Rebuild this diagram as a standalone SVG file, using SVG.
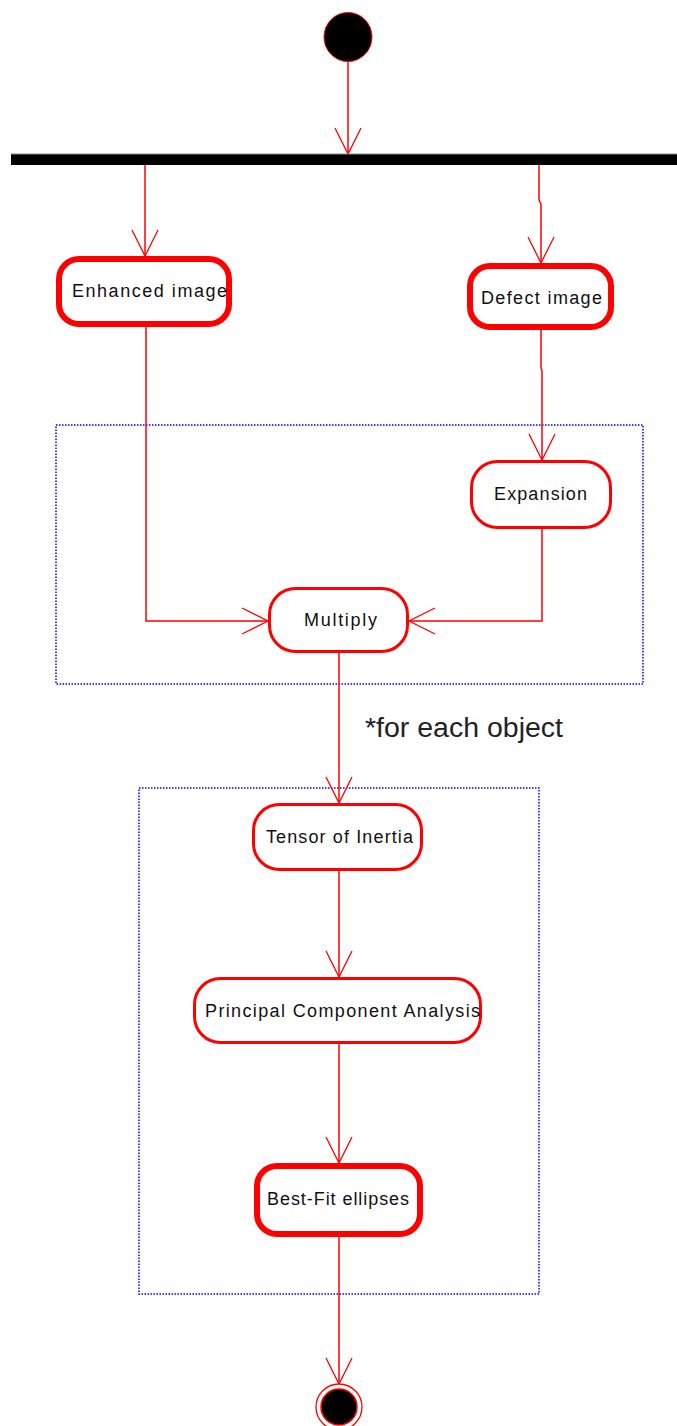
<svg xmlns="http://www.w3.org/2000/svg" width="677" height="1426" viewBox="0 0 677 1426">
  <style>
    .act { fill: #ffffff; stroke: #ff0000; }
    .thick { stroke-width: 6; }
    .thin { stroke-width: 3; }
    .lbl { font-family: "Liberation Sans", Arial, sans-serif; font-size: 18px; fill: #111111; }
    .note { font-family: "Liberation Sans", Arial, sans-serif; font-size: 27px; fill: #222222; }
    .flow { fill: none; stroke: #ff0000; stroke-width: 1.5; marker-end: url(#open); }
    .region { fill: none; stroke: #0000ff; stroke-width: 1.5; stroke-dasharray: 1.5 1.5; }
  </style>
  <defs>
    <marker id="open" markerUnits="userSpaceOnUse" markerWidth="30" markerHeight="30" viewBox="-28 -15 30 30" refX="0" refY="0" orient="auto" overflow="visible">
      <path d="M-26,-13 L0,0 L-26,13" fill="none" stroke="#ff0000" stroke-width="1.3"/>
    </marker>
  </defs>

  <rect width="677" height="1426" fill="#ffffff"/>

  <!-- iteration regions -->
  <g id="regions">
    <rect class="region" x="56" y="425" width="587" height="259"/>
    <rect class="region" x="139" y="788" width="400" height="506"/>
  </g>

  <!-- flows -->
  <g id="connectors">
    <path class="flow" d="M348,61 V154"/>
    <path class="flow" d="M145,165 V256"/>
    <path class="flow" d="M539,158 V200 L541,204 V263"/>
    <path class="flow" d="M541,330 V368 L542,371 V460"/>
    <path class="flow" d="M146,327 V621 H268"/>
    <path class="flow" d="M542,529 V621 H409"/>
    <path class="flow" d="M339,653 V803"/>
    <path class="flow" d="M339,871 V977"/>
    <path class="flow" d="M339,1043 V1163"/>
    <path class="flow" d="M339,1237 V1384"/>
  </g>

  <g id="start">
    <ellipse cx="348" cy="37" rx="24" ry="24.5" fill="#000000" stroke="#ff0000" stroke-width="1"/>
  </g>

  <g id="fork">
    <rect x="11" y="154" width="666" height="11" fill="#000000"/>
    <line x1="11" y1="154" x2="677" y2="154" stroke="#888888" stroke-width="1"/>
  </g>

  <g id="enhanced-image">
    <rect class="act thick" x="59" y="259" width="170" height="65" rx="20" ry="20"/>
    <text class="lbl" x="72" y="297" textLength="155" lengthAdjust="spacing">Enhanced image</text>
  </g>

  <g id="defect-image">
    <rect class="act thick" x="470" y="266" width="141" height="61" rx="20" ry="20"/>
    <text class="lbl" x="481" y="304" textLength="121" lengthAdjust="spacing">Defect image</text>
  </g>

  <g id="expansion">
    <rect class="act thin" x="471.5" y="461.5" width="139" height="66" rx="26" ry="26"/>
    <text class="lbl" x="494" y="500" textLength="93" lengthAdjust="spacing">Expansion</text>
  </g>

  <g id="multiply">
    <rect class="act thin" x="269.5" y="588.5" width="138" height="63" rx="26" ry="26"/>
    <text class="lbl" x="304" y="626" textLength="73" lengthAdjust="spacing">Multiply</text>
  </g>

  <g id="loop-note">
    <text class="note" x="365" y="737" textLength="198" lengthAdjust="spacingAndGlyphs">*for each object</text>
  </g>

  <g id="tensor-of-inertia">
    <rect class="act thin" x="253.5" y="804.5" width="168" height="65" rx="26" ry="26"/>
    <text class="lbl" x="266" y="843" textLength="147" lengthAdjust="spacing">Tensor of Inertia</text>
  </g>

  <g id="pca">
    <rect class="act thin" x="194.5" y="978.5" width="286" height="64" rx="26" ry="26"/>
    <text class="lbl" x="205" y="1017" textLength="275" lengthAdjust="spacing">Principal Component Analysis</text>
  </g>

  <g id="best-fit-ellipses">
    <rect class="act thick" x="257" y="1166" width="163" height="68" rx="20" ry="20"/>
    <text class="lbl" x="267" y="1205" textLength="142" lengthAdjust="spacing">Best-Fit ellipses</text>
  </g>

  <g id="end">
    <circle cx="339" cy="1407" r="23" fill="#ffffff" stroke="#ff0000" stroke-width="1.3"/>
    <circle cx="339" cy="1407" r="18" fill="#000000" stroke="#ff0000" stroke-width="1.5"/>
  </g>
</svg>
